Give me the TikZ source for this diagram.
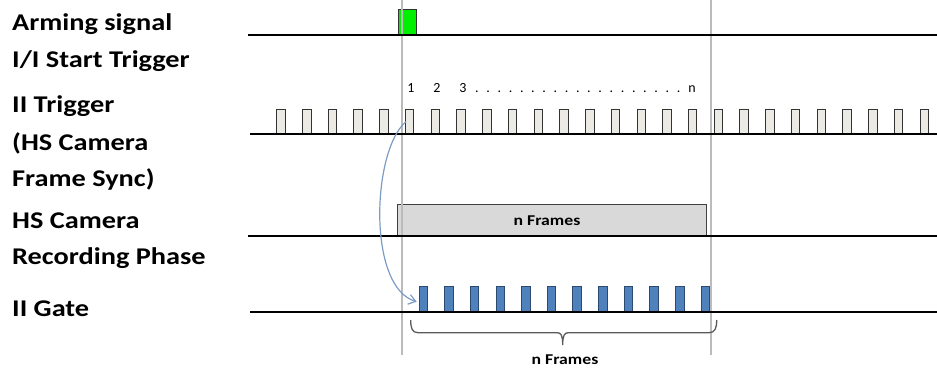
\documentclass[tikz,border=0pt]{standalone}
\usepackage{fontspec}
\usepackage{graphicx}
\setmainfont{Carlito}
\usetikzlibrary{arrows.meta}
\definecolor{trigfill}{HTML}{ECEAE4}
\definecolor{gatefill}{HTML}{4F81BD}
\definecolor{gateline}{HTML}{2C4A70}
\definecolor{recfill}{HTML}{D9D9D9}
\definecolor{guide}{HTML}{BBBBBB}
\definecolor{arrowc}{HTML}{7C9CC4}
\definecolor{bracec}{HTML}{5A5A5A}
\newcommand{\wide}[1]{\scalebox{1.18}[1]{#1}}
\tikzset{
  lab/.style={anchor=base west, inner sep=0pt, font=\bfseries\fontsize{24}{28}\selectfont},
  sig/.style={line width=2pt, black},
  trig/.style={draw=black!80, line width=0.8pt, fill=trigfill},
  gatep/.style={draw=gateline, line width=0.8pt, fill=gatefill},
  guideline/.style={guide, line width=1.4pt},
  num/.style={anchor=base, inner sep=0pt, font=\fontsize{14}{16}\selectfont},
  small/.style={anchor=base, inner sep=0pt, font=\bfseries\fontsize{15}{17}\selectfont},
}
\begin{document}
\begin{tikzpicture}[x=1pt,y=-1pt]
\useasboundingbox (0,0) rectangle (937,367);
% labels
\node[lab] (l1) at (12,30) {\wide{Arming signal}};
\node[lab] (l2) at (12,67) {\wide{I/I Start Trigger}};
\node[lab] (l3) at (12,112) {\wide{II Trigger}};
\node[lab] (l4) at (12,150) {\wide{(HS Camera}};
\node[lab] (l5) at (12,186) {\wide{Frame Sync)}};
\node[lab] (l6) at (12,228) {\wide{HS Camera}};
\node[lab] (l7) at (12,264) {\wide{Recording Phase}};
\node[lab] (l8) at (12,316) {\wide{II Gate}};
% arming pulse
\draw[draw=black!80, line width=0.8pt, fill=green!90!black!60!green] (398,35) rectangle (416,9);
% trigger pulses
\foreach \i in {0,...,25} {
  \draw[trig] ({276.7+25.73*\i},134) rectangle ({285.2+25.73*\i},109);
}
% recording box
\node[draw=black!75, line width=0.8pt, fill=recfill, minimum width=308.4pt, minimum height=31.4pt, inner sep=0pt, anchor=south west] (rec) at (397.3,235.7) {};
\node[small] (rect) at (547,225) {\wide{n Frames}};
% gate pulses
\foreach \i in {0,...,11} {
  \draw[gatep] ({419+25.64*\i},311.7) rectangle ({427.6+25.64*\i},286.7);
}
% guide lines
\coordinate (g1t) at (402,0); \coordinate (g1b) at (402,355);
\coordinate (g2t) at (711,0); \coordinate (g2b) at (711,355);
\draw[guideline] (g1t) -- (g1b);
\draw[guideline] (g2t) -- (g2b);
% signal lines
\draw[sig] (248,35) -- (937,35);
\draw[sig] (250,134) -- (937,134);
\draw[sig] (248,235.7) -- (937,235.7);
\draw[sig] (250,311.7) -- (937,311.7);
% numbers
\node[num] (n1) at (411,92.7) {1};
\node[num] (n2) at (437,92.7) {2};
\node[num] (n3) at (463,92.7) {3};
\foreach \k in {0,...,18} {
  \node[num] at ({477+11.2*\k},92.7) {.};
}
\node[num] (nn) at (692,92.7) {n};
% arrow
\coordinate (as) at (406,121.7);
\coordinate (ae) at (416.7,301.7);
\draw[arrowc, line width=1.2pt, -{Straight Barb[length=7pt,width=10pt]}] (as) .. controls (372,150) and (367,287) .. (ae);
% brace
\draw[bracec, line width=1.3pt] (410.7,320) .. controls (410.7,328) and (412,332.7) .. (418,332.7) -- (557,332.7) .. controls (561,332.7) and (562.7,335) .. (562.7,345) .. controls (562.7,335) and (564.5,332.7) .. (568.5,332.7) -- (709,332.7) .. controls (715,332.7) and (716.7,328) .. (716.7,320);
\node[small] (bract) at (565,364.3) {\wide{n Frames}};
\end{tikzpicture}
\end{document}
